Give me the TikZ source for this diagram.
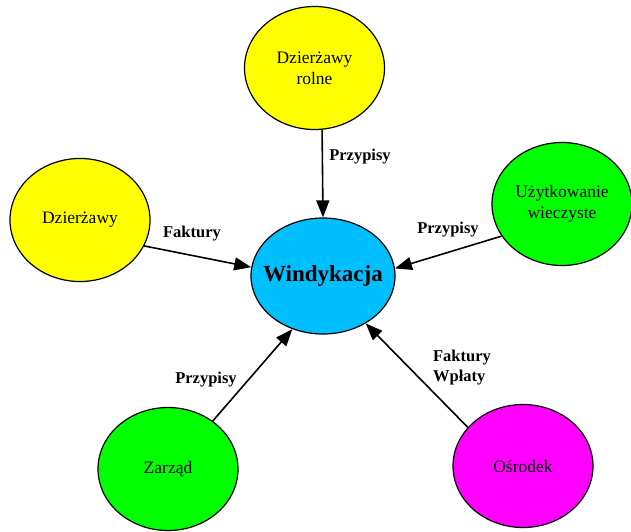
\documentclass[tikz,border=0pt]{standalone}
\usepackage{fontspec}
\setmainfont{Liberation Serif}
\usetikzlibrary{shapes.geometric,arrows.meta}
\definecolor{cyel}{RGB}{255,255,0}
\definecolor{cgrn}{RGB}{0,255,0}
\definecolor{ccyan}{RGB}{0,191,255}
\definecolor{cmag}{RGB}{255,0,255}
\tikzset{
  bubble/.style={ellipse, draw=black, line width=1.2pt, inner sep=0pt,
     minimum width=140pt, minimum height=123pt, align=center,
     font=\fontsize{17.5}{21}\selectfont},
  conn/.style={line width=1.6pt, -{Triangle[length=17pt,width=13pt]}},
  lbl/.style={font=\fontsize{16.5}{20}\selectfont\bfseries, align=left, inner sep=0pt}
}
\begin{document}
\begin{tikzpicture}[x=1pt,y=-1pt]
\useasboundingbox (0,0) rectangle (631,531);
\node[bubble, fill=cyel] (rolne) at (314.5,68) {Dzierżawy\\rolne};
\node[bubble, fill=cyel] (dz) at (80,220) {Dzierżawy};
\node[bubble, fill=cgrn] (uw) at (562,204) {Użytkowanie\\wieczyste};
\node[bubble, fill=ccyan, minimum width=144pt, minimum height=116pt,
      font=\fontsize{23}{26}\selectfont\bfseries] (win) at (323,276) {\makebox[0pt][c]{Windykacja}};
\node[bubble, fill=cgrn] (za) at (168,469) {\makebox[0pt][c]{Zarząd}};
\node[bubble, fill=cmag] (os) at (523,466) {Ośrodek};

\draw[conn] (rolne.-83) -- (win.90);
\draw[conn] (dz.-22) -- (win.173);
\draw[conn] (uw.208) -- (win.6);
\draw[conn] (za.47) -- (win.240);
\draw[conn] (os.145) -- (win.-48);

\node[lbl] (l1) at (360,157) {Przypisy};
\node[lbl] (l2) at (192,234) {Faktury};
\node[lbl] (l3) at (448,230) {Przypisy};
\node[lbl] (l4) at (206,380) {Przypisy};
\node[lbl] (l5) at (462,368) {Faktury\\Wpłaty};
\end{tikzpicture}
\end{document}
